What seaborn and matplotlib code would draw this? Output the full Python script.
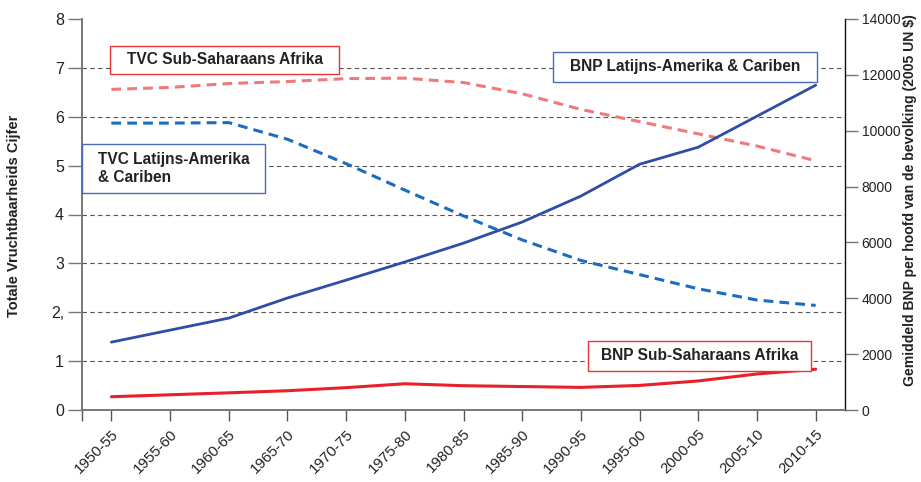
import matplotlib.pyplot as plt
import matplotlib.patches as mpatches
import seaborn as sns
import numpy as np
import pandas as pd

periods = ["1950-55", "1955-60", "1960-65", "1965-70", "1970-75", "1975-80", "1980-85",
           "1985-90", "1990-95", "1995-00", "2000-05", "2005-10", "2010-15"]
tvc_ssa = [6.56, 6.60, 6.68, 6.72, 6.78, 6.79, 6.70, 6.47, 6.15, 5.90, 5.65, 5.40, 5.10]
tvc_lac = [5.87, 5.87, 5.88, 5.54, 5.04, 4.50, 3.97, 3.48, 3.06, 2.77, 2.48, 2.25, 2.14]
bnp_lac = [2430, 2860, 3290, 4010, 4650, 5300, 5975, 6730, 7660, 8800, 9410, 10520, 11630]
bnp_ssa = [475, 545, 615, 690, 800, 940, 870, 840, 810, 880, 1040, 1290, 1460]
left_ticks = [0, 1, 2, 3, 4, 5, 6, 7, 8]
left_labels = ["0", "1", "2,", "3", "4", "5", "6", "7", "8"]
right_ticks = [0, 2000, 4000, 6000, 8000, 10000, 12000, 14000]

sns.set_theme(style="white")
plt.rcParams['font.family'] = ['Liberation Sans', 'DejaVu Sans']

df = pd.DataFrame({"pos": np.arange(len(periods)), "period": periods,
                   "tvc_ssa": tvc_ssa, "tvc_lac": tvc_lac,
                   "bnp_lac": bnp_lac, "bnp_ssa": bnp_ssa})

fig = plt.figure(figsize=(9.21, 4.82), dpi=100)
ax = fig.add_axes([82 / 921, 1 - 410 / 482, (845 - 82) / 921, (410 - 19) / 482])
ax2 = ax.twinx()

# grid (dashed), only between the ends
for y in left_ticks[1:-1]:
    ax.axhline(y, color="#555555", lw=0.8, linestyle=(0, (4, 3)), zorder=0)

dash = (0, (3.2, 2.0))
sns.lineplot(data=df, x="pos", y="tvc_ssa", ax=ax, color="#f07a7a", lw=2.2,
             linestyle=dash, sort=False, zorder=3)
sns.lineplot(data=df, x="pos", y="tvc_lac", ax=ax, color="#1c6cc0", lw=2.2,
             linestyle=dash, sort=False, zorder=3)
sns.lineplot(data=df, x="pos", y="bnp_lac", ax=ax2, color="#2e4ea6", lw=2.0,
             sort=False, zorder=3)
sns.lineplot(data=df, x="pos", y="bnp_ssa", ax=ax2, color="#e8202a", lw=2.2,
             sort=False, zorder=3)

ax.set_xlim(-0.5, len(periods) - 0.5)
ax.set_ylim(0, 8)
ax2.set_ylim(0, 14000)
ax.set_xticks(df["pos"])
ax.set_xticklabels(periods, rotation=45, ha="right", rotation_mode="anchor", fontsize=10.8)
ax.set_xticks([-0.5], minor=True)
ax.set_yticks(left_ticks)
ax.set_yticklabels(left_labels, fontsize=11.5)
ax2.set_yticks(right_ticks)
ax2.set_yticklabels([str(t) for t in right_ticks], fontsize=10)
ax.set_xlabel("")
ax.set_ylabel("")
ax2.set_ylabel("")

ax.tick_params(axis="x", which="both", bottom=True, length=8, width=1, color="#555555",
               direction="out", pad=4, labelcolor="#222222")
ax.tick_params(axis="y", left=True, length=10, width=1, color="#777777", direction="out",
               pad=3, labelcolor="#222222")
ax2.tick_params(axis="y", right=True, length=9, width=1, color="#777777", direction="out",
                pad=3, labelcolor="#222222")
for a in (ax, ax2):
    a.spines["top"].set_visible(False)
    a.spines["left"].set_color("#777777")
    a.spines["bottom"].set_color("#777777")
    a.spines["left"].set_linewidth(1.2)
    a.spines["bottom"].set_linewidth(1.2)
ax2.spines["right"].set_color("#111111")
ax2.spines["right"].set_linewidth(1.0)
ax.spines["right"].set_visible(False)


def box(x0, y0, x1, y1, color, text, align="center", tx=None):
    # pixel box -> axes fraction
    w, h = 763, 391
    ax0, ay0 = (x0 - 82) / w, 1 - (y1 - 19) / h
    bw, bh = (x1 - x0) / w, (y1 - y0) / h
    ax2.add_patch(mpatches.Rectangle((ax0, ay0), bw, bh, transform=ax2.transAxes,
                                     facecolor="white", edgecolor=color, lw=1.0,
                                     zorder=10, clip_on=False))
    if align == "center":
        ax2.text(ax0 + bw / 2, ay0 + bh / 2, text, transform=ax2.transAxes, ha="center",
                 va="center", fontsize=11.2, fontweight="bold", color="#222222", zorder=11)
    else:
        ax2.text((tx - 82) / w, ay0 + bh / 2, text, transform=ax2.transAxes, ha="left",
                 va="center", fontsize=11.2, fontweight="bold", color="#222222", zorder=11,
                 linespacing=1.25)


box(110, 46, 339, 74, "#e8323a", "TVC Sub-Saharaans Afrika")
box(82, 144, 265, 193, "#4a6ab8", "TVC Latijns-Amerika\n& Cariben", align="left", tx=98)
box(553, 52, 817, 82, "#4a6ab8", "BNP Latijns-Amerika & Cariben")
box(588, 341, 811, 371, "#e8323a", "BNP Sub-Saharaans Afrika")

fig.text(14 / 921, 1 - 216 / 482, "Totale Vruchtbaarheids Cijfer", rotation=90,
         ha="center", va="center", fontsize=10.5, fontweight="bold", color="#222222")
fig.text(910 / 921, 1 - 386 / 482, "Gemiddeld BNP per hoofd van de bevolking (2005 UN $)",
         rotation=90, ha="center", va="bottom", fontsize=10.1, fontweight="bold",
         color="#222222")

fig.savefig("out.png", dpi=100)
